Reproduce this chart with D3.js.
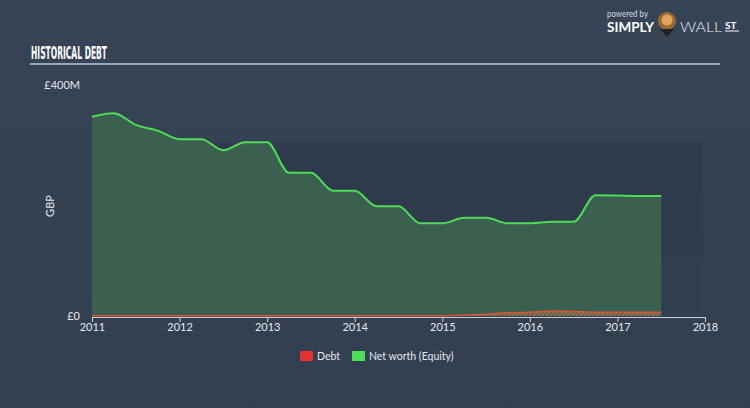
<!DOCTYPE html>
<html><head><meta charset="utf-8">
<script src="https://cdn.jsdelivr.net/npm/d3@7"></script>
<style>
html,body{margin:0;padding:0;background:#344152;}
svg{display:block;}
</style></head>
<body>
<svg id="chart" width="750" height="408"></svg>
<script>
const dates = [2011.00,2011.25,2011.50,2011.75,2012.00,2012.25,2012.50,2012.75,2013.00,2013.25,2013.50,2013.75,2014.00,2014.25,2014.50,2014.75,2015.00,2015.25,2015.50,2015.75,2016.00,2016.25,2016.50,2016.75,2017.00,2017.25,2017.50];
const netWorth = [345,351,331,321,306,306,287,301,301,248,248,217,217,190,190,160.5,160.5,170,170,160.5,160.5,163,163,209,208.5,208,208];
const debt = [0.5,0.5,0.5,0.5,0.5,0.5,0.5,0.5,0.5,0.5,0.5,0.5,0.5,0.5,0.5,0.5,0.5,1.5,3,5.5,6.5,8.5,8,6.5,6.5,6.5,6.5];
const xTicks = [2011,2012,2013,2014,2015,2016,2017,2018];
const yTickLabels = ["£0","£400M"];
const yTickValues = [0,400];
const legendLabels = ["Debt","Net worth (Equity)"];
const legendColors = ["#e5322f","#4fdc56"];

const svg = d3.select("#chart");
const W = 750, H = 408;
const x = d3.scaleLinear().domain([2011,2018]).range([92,705]);
const y = d3.scaleLinear().domain([0,400]).range([316,85]);

const defs = svg.append("defs");
const bg = defs.append("linearGradient").attr("id","bg").attr("x1",0).attr("y1",0).attr("x2",0).attr("y2",1);
bg.append("stop").attr("offset","0%").attr("stop-color","#364456");
bg.append("stop").attr("offset","100%").attr("stop-color","#323f50");
svg.append("rect").attr("width",W).attr("height",H).attr("fill","url(#bg)");

const pat = defs.append("pattern").attr("id","hatch").attr("patternUnits","userSpaceOnUse")
  .attr("width",3).attr("height",3).attr("patternTransform","rotate(45)");
pat.append("rect").attr("width",3).attr("height",3).attr("fill","#6a5a3e");
pat.append("line").attr("x1",0).attr("y1",0).attr("x2",0).attr("y2",3).attr("stroke","#c8a57a").attr("stroke-width",1.2);

// bands
svg.append("rect").attr("x",x(2011)).attr("width",x(2018)-x(2011)-2).attr("y",y(300)).attr("height",y(100)-y(300)).attr("fill","#2f3b4c");
svg.append("rect").attr("x",x(2011)).attr("width",x(2018)-x(2011)-2).attr("y",y(100)).attr("height",y(0)-y(100)).attr("fill","#313e4f");

// title
svg.append("text").attr("x",31).attr("y",58.5).text("HISTORICAL DEBT")
  .attr("fill","#ffffff").attr("font-family","'DejaVu Sans Condensed','Liberation Sans Narrow',sans-serif")
  .attr("font-weight","bold").attr("font-size",17)
  .attr("textLength",76).attr("lengthAdjust","spacingAndGlyphs");
svg.append("line").attr("x1",30).attr("x2",720).attr("y1",64).attr("y2",64).attr("stroke","#b9cbe0").attr("stroke-width",1.5);

// logo
const logo = svg.append("g").attr("font-family","Lato, 'Open Sans', sans-serif");
logo.append("text").attr("x",607).attr("y",17).text("powered by").attr("fill","#d0d8e2").attr("font-size",8.5)
  .attr("textLength",41).attr("lengthAdjust","spacingAndGlyphs");
logo.append("text").attr("x",607).attr("y",32).text("SIMPLY").attr("fill","#ffffff").attr("font-size",13).attr("font-weight","bold")
  .attr("textLength",47).attr("lengthAdjust","spacingAndGlyphs");
logo.append("circle").attr("cx",667).attr("cy",21).attr("r",9).attr("fill","#9a6a32");
logo.append("path").attr("d","M660,29 L667,37 L674,29 Z").attr("fill","#222");
logo.append("circle").attr("cx",667).attr("cy",20).attr("r",5.5).attr("fill","#e0a55a");
logo.append("text").attr("x",680).attr("y",32).text("WALL").attr("fill","#e8eef4").attr("font-size",13).attr("font-weight","300")
  .attr("textLength",42).attr("lengthAdjust","spacingAndGlyphs");
logo.append("text").attr("x",725).attr("y",29).text("ST").attr("fill","#ffffff").attr("font-size",10).attr("font-weight","bold");
logo.append("line").attr("x1",725).attr("x2",739).attr("y1",31).attr("y2",31).attr("stroke","#fff").attr("stroke-width",1);

// areas
const curve = d3.curveMonotoneX;
const nwData = dates.map((d,i)=>({d, v: netWorth[i]}));
const debtData = dates.map((d,i)=>({d, v: debt[i]}));
const area = d3.area().x(p=>x(p.d)).y0(y(0)).y1(p=>y(p.v)).curve(curve);
const line = d3.line().x(p=>x(p.d)).y(p=>y(p.v)).curve(curve);

svg.append("path").datum(nwData).attr("d",area).attr("fill","#3a6150").attr("opacity",0.98);
svg.append("path").datum(nwData).attr("d",line).attr("fill","none").attr("stroke","#4fdc56").attr("stroke-width",2);
svg.append("path").datum(debtData).attr("d",area).attr("fill","url(#hatch)");
svg.append("path").datum(debtData).attr("d",line).attr("fill","none").attr("stroke","#d9553a").attr("stroke-width",1.5);

// x axis
const xAxis = d3.axisBottom(x).tickValues(xTicks).tickFormat(d3.format("d")).tickSize(5).tickSizeOuter(0);
const gx = svg.append("g").attr("transform","translate(0,317)").call(xAxis);
gx.select(".domain").attr("stroke","#c8d0da");
gx.selectAll(".tick line").attr("stroke","#c8d0da");
gx.selectAll(".tick text").attr("fill","#e3e8ee").attr("font-size",11).attr("font-family","Lato, 'Open Sans', sans-serif").attr("dy","0.55em");

// y labels
svg.selectAll(".ylab").data(yTickValues).enter().append("text")
  .attr("x",80).attr("y",d=>y(d)+4).attr("text-anchor","end")
  .text((d,i)=>yTickLabels[i]).attr("fill","#e3e8ee").attr("font-size",11).attr("font-family","Lato, 'Open Sans', sans-serif");
svg.append("text").attr("transform","translate(54,206) rotate(-90)").attr("text-anchor","middle")
  .text("GBP").attr("fill","#e3e8ee").attr("font-size",11).attr("font-family","Lato, 'Open Sans', sans-serif");

// legend
const lg = svg.append("g");
const lx = [300, 352];
legendLabels.forEach((t,i)=>{
  lg.append("rect").attr("x",lx[i]).attr("y",351).attr("width",13).attr("height",10).attr("fill",legendColors[i]);
  lg.append("text").attr("x",lx[i]+17).attr("y",360).text(t).attr("fill","#e3e8ee").attr("font-size",10.5).attr("font-family","Lato, 'Open Sans', sans-serif");
});
</script>
</body></html>
